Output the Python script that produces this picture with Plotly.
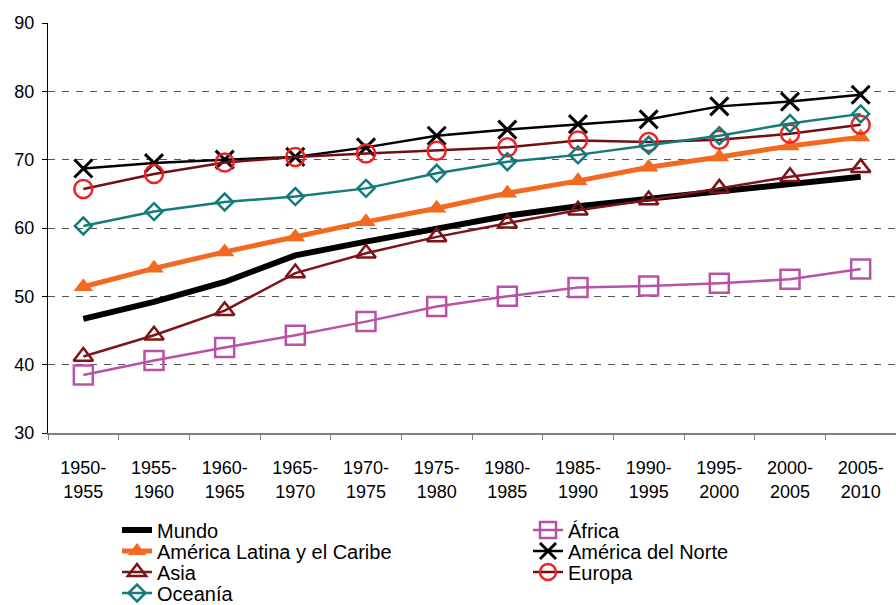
import plotly.graph_objects as go

periods = ["1950-<br>1955", "1955-<br>1960", "1960-<br>1965", "1965-<br>1970", "1970-<br>1975",
           "1975-<br>1980", "1980-<br>1985", "1985-<br>1990", "1990-<br>1995", "1995-<br>2000",
           "2000-<br>2005", "2005-<br>2010"]

mundo = [46.7, 49.2, 52.1, 56.0, 58.0, 60.0, 61.8, 63.2, 64.3, 65.3, 66.5, 67.5]
africa = [38.5, 40.6, 42.5, 44.3, 46.3, 48.5, 50.0, 51.3, 51.5, 51.9, 52.5, 54.0]
america_latina = [51.4, 54.1, 56.5, 58.7, 60.9, 62.9, 65.1, 66.9, 68.9, 70.4, 72.0, 73.3]
america_norte = [68.7, 69.5, 70.0, 70.4, 71.8, 73.5, 74.4, 75.2, 75.9, 77.8, 78.5, 79.5]
asia = [41.2, 44.3, 47.9, 53.4, 56.3, 58.7, 60.7, 62.6, 64.1, 65.8, 67.5, 68.8]
europa = [65.7, 67.9, 69.6, 70.4, 70.9, 71.3, 71.8, 72.8, 72.6, 72.9, 73.8, 75.1]
oceania = [60.3, 62.4, 63.8, 64.6, 65.8, 68.0, 69.7, 70.7, 72.1, 73.5, 75.3, 76.7]

y_ticks = [30, 40, 50, 60, 70, 80, 90]

W, H = 896, 605

fig = go.Figure()

def add(name, vals, line_color, width, symbol=None, msize=0, mcolor=None, mlw=2.5, legend="legend"):
    mode = "lines" if symbol is None else "lines+markers"
    marker = None
    if symbol is not None:
        marker = dict(symbol=symbol, size=msize, color=mcolor,
                      line=dict(color=mcolor, width=mlw))
    fig.add_trace(go.Scatter(
        x=periods, y=vals, name=name, mode=mode,
        line=dict(color=line_color, width=width),
        marker=marker, legend=legend, cliponaxis=False))

add("Mundo", mundo, "#000000", 6, legend="legend")
add("África", africa, "#B952A6", 2.5, "square-open", 19, "#B952A6", legend="legend2")
add("América Latina y el Caribe", america_latina, "#F26A22", 5, "triangle-up", 17, "#F26A22", mlw=0, legend="legend3")
add("América del Norte", america_norte, "#000000", 2.5, "x-thin-open", 18, "#000000", mlw=3, legend="legend4")
add("Asia", asia, "#7E1418", 2.5, "triangle-up-open", 17, "#7E1418", legend="legend5")
add("Europa", europa, "#701014", 2.5, "circle-open", 18, "#EE2226", legend="legend6")
add("Oceanía", oceania, "#137B7A", 2.5, "diamond-open", 13, "#137B7A", legend="legend7")

# legend positions (pixels): (text-left x, row center y)
leg_pos = {
    "legend": (157, 531), "legend2": (568, 531),
    "legend3": (157, 552), "legend4": (568, 552),
    "legend5": (157, 573), "legend6": (568, 573),
    "legend7": (157, 594),
}
legends = {}
for key, (tx, cy) in leg_pos.items():
    legends[key] = dict(
        xref="container", yref="container",
        x=(tx - 40) / W, y=1 - (cy - 1) / H,
        xanchor="left", yanchor="middle",
        bgcolor="rgba(0,0,0,0)", borderwidth=0,
        font=dict(family="Liberation Sans, Arial", size=20, color="#000000"),
        tracegroupgap=0,
    )

fig.update_layout(
    width=W, height=H,
    margin=dict(l=48, r=0, t=23, b=172, autoexpand=False),
    paper_bgcolor="white", plot_bgcolor="white",
    font=dict(family="Liberation Sans, Arial", size=18, color="#000000"),
    showlegend=True,
    **legends,
)

fig.update_xaxes(
    type="category", tickson="boundaries", ticks="outside", ticklen=5,
    tickcolor="#808080", showline=True, linecolor="#808080", linewidth=1.5,
    showgrid=False, tickfont=dict(size=18), range=[-0.5, 11.5], tickangle=0,
    ticklabelstandoff=18,
)
fig.update_yaxes(
    range=[30, 90], tickvals=y_ticks, ticks="outside", ticklen=5,
    tickcolor="#000000", showline=True, linecolor="#000000", linewidth=1,
    showgrid=True, gridcolor="#555555", griddash="7px,7px", gridwidth=1,
    zeroline=False, tickfont=dict(size=18), ticklabelstandoff=4,
)

fig.write_html("out.html", config={"displayModeBar": False},
               post_script="document.body.style.margin='0';")
